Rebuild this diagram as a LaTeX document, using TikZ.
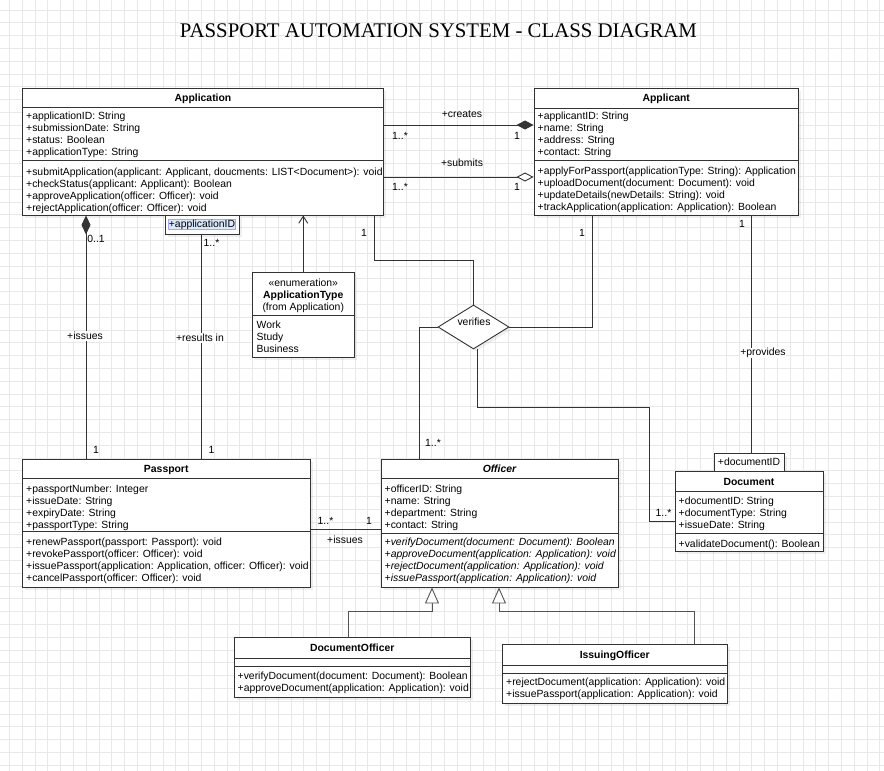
\documentclass[tikz,border=0pt]{standalone}
\usepackage{fontspec}
\setmainfont{Liberation Sans}
\newfontfamily\titlefont{Liberation Serif}
\usetikzlibrary{arrows.meta,shapes.geometric,shadows}
\definecolor{gridgray}{RGB}{232,232,232}
\definecolor{linegray}{RGB}{51,51,51}
\definecolor{qualblue}{RGB}{218,232,252}
\begin{document}
\begin{tikzpicture}[x=1pt,y=-1pt,
  classbox/.style={draw=linegray, fill=white, line width=0.9pt, inner sep=0pt,
    drop shadow={shadow xshift=2.5pt, shadow yshift=-2.5pt, opacity=0.12}},
  members/.style={anchor=north west, inner sep=0pt, align=left, font=\fontsize{10.4}{12}\selectfont},
  cname/.style={inner sep=0pt, text height=7.5pt, text depth=1.5pt, font=\fontsize{10.4}{12}\selectfont\bfseries},
  lbl/.style={inner sep=0.5pt, text height=7.5pt, text depth=1.5pt, font=\fontsize{10.4}{12}\selectfont},
  onwire/.style={lbl, fill=white},
  sepline/.style={draw=linegray, line width=0.9pt},
  assoc/.style={draw=linegray, line width=0.9pt},
  gen/.style={draw=linegray!85, line width=0.9pt, -{Triangle[open, fill=white, length=16pt, width=14pt]}},
  gridline/.style={draw=gridgray, line width=0.8pt}]

% background and grid
\fill[white] (0,0) rectangle (884,771);
\useasboundingbox (0,0) rectangle (884,771);
\foreach \k in {-1,...,68} \draw[gridline] ({9.3+12.8*\k},0) -- ({9.3+12.8*\k},771);
\foreach \k in {-1,...,59} \draw[gridline] (0,{10+12.8*\k}) -- (884,{10+12.8*\k});

\node[inner sep=0pt, text height=13.8pt, text depth=0pt, font=\titlefont\fontsize{20.8}{24}\selectfont] (title) at (438.5,30.4) {PASSPORT AUTOMATION SYSTEM - CLASS DIAGRAM};

% Application
\node[classbox, minimum width=361, minimum height=126.5] (application) at (203,151.75) {};
\draw[sepline] (22.5,107.5) -- (383.5,107.5);
\draw[sepline] (22.5,160.5) -- (383.5,160.5);
\node[cname] (applicationname) at (203,98) {Application};
\node[members] (applicationattr) at (26,110.8) {\strut+applicationID: String\\+submissionDate: String\\+status: Boolean\\+applicationType: String};
\node[members] (applicationops) at (26,166.5) {\strut+submitApplication(applicant: Applicant, doucments: LIST<Document>): void\\+checkStatus(applicant: Applicant): Boolean\\+approveApplication(officer: Officer): void\\+rejectApplication(officer: Officer): void};

% Applicant
\node[classbox, minimum width=264.5, minimum height=127] (applicant) at (666.25,152) {};
\draw[sepline] (534,108) -- (798.5,108);
\draw[sepline] (534,160.5) -- (798.5,160.5);
\node[cname] (applicantname) at (666.25,98) {Applicant};
\node[members] (applicantattr) at (537.5,110.8) {\strut+applicantID: String\\+name: String\\+address: String\\+contact: String};
\node[members] (applicantops) at (537.5,165.8) {\strut+applyForPassport(applicationType: String): Application\\+uploadDocument(document: Document): void\\+updateDetails(newDetails: String): void\\+trackApplication(application: Application): Boolean};

% qualifier on Application
\node[classbox, minimum width=74, minimum height=19] (appid) at (202,224.5) {};
\node[lbl, fill=qualblue, draw=blue!35, line width=0.5pt] (appidtext) at (202,224.5) {+applicationID};

% ApplicationType
\node[classbox, minimum width=101.5, minimum height=85] (apptype) at (303.25,314.5) {};
\draw[sepline] (252.5,315) -- (354,315);
\node[members, anchor=north, align=center] (apptypehead) at (303.25,277.5) {\strut«enumeration»\\\textbf{ApplicationType}\\(from Application)};
\node[members] (apptypevals) at (256.5,319.8) {\strut Work\\Study\\Business};

% verifies
\node[diamond, draw=linegray, fill=white, line width=0.9pt, minimum width=71, minimum height=44, inner sep=0pt,
  drop shadow={shadow xshift=2.5pt, shadow yshift=-2.5pt, opacity=0.12}] (verifies) at (473.5,327) {};
\node[lbl] (verifieslbl) at (474,322.5) {verifies};

% Passport
\node[classbox, minimum width=287.5, minimum height=128] (passport) at (166.25,523) {};
\draw[sepline] (22.5,478) -- (310,478);
\draw[sepline] (22.5,531.5) -- (310,531.5);
\node[cname] (passportname) at (166.25,469.5) {Passport};
\node[members] (passportattr) at (26,483.8) {\strut+passportNumber: Integer\\+issueDate: String\\+expiryDate: String\\+passportType: String};
\node[members] (passportops) at (26,536.8) {\strut+renewPassport(passport: Passport): void\\+revokePassport(officer: Officer): void\\+issuePassport(application: Application, officer: Officer): void\\+cancelPassport(officer: Officer): void};

% Officer
\node[classbox, minimum width=237, minimum height=128] (officer) at (499.5,523) {};
\draw[sepline] (381,478) -- (618,478);
\draw[sepline] (381,533) -- (618,533);
\node[cname, font=\fontsize{10.4}{12}\selectfont\bfseries\itshape] (officername) at (499.5,469.5) {Officer};
\node[members] (officerattr) at (384.5,483.8) {\strut+officerID: String\\+name: String\\+department: String\\+contact: String};
\node[members, font=\fontsize{10.4}{12}\selectfont\itshape] (officerops) at (384.5,536.5) {\strut+verifyDocument(document: Document): Boolean\\+approveDocument(application: Application): void\\+rejectDocument(application: Application): void\\+issuePassport(application: Application): void};

% Document
\node[classbox, minimum width=70, minimum height=18.5] (docid) at (749,462.25) {};
\node[lbl] (docidtext) at (749,462.5) {+documentID};
\node[classbox, minimum width=148, minimum height=80] (document) at (749,511.5) {};
\draw[sepline] (675,491.5) -- (823,491.5);
\draw[sepline] (675,533) -- (823,533);
\node[cname] (documentname) at (749,482.5) {Document};
\node[members] (documentattr) at (678.5,495.8) {\strut+documentID: String\\+documentType: String\\+issueDate: String};
\node[members] (documentops) at (678.5,538.8) {\strut+validateDocument(): Boolean};

% DocumentOfficer
\node[classbox, minimum width=236.5, minimum height=60] (docofficer) at (352.25,667) {};
\draw[sepline] (234,658) -- (470.5,658);
\draw[sepline] (234,666) -- (470.5,666);
\node[cname] (docofficername) at (352.25,648.5) {DocumentOfficer};
\node[members] (docofficerops) at (237.5,670.8) {\strut+verifyDocument(document: Document): Boolean\\+approveDocument(application: Application): void};

% IssuingOfficer
\node[classbox, minimum width=224.5, minimum height=59] (issuing) at (614.75,673.5) {};
\draw[sepline] (502.5,665) -- (727,665);
\draw[sepline] (502.5,673) -- (727,673);
\node[cname] (issuingname) at (614.75,655.5) {IssuingOfficer};
\node[members] (issuingops) at (506,676.5) {\strut+rejectDocument(application: Application): void\\+issuePassport(application: Application): void};

% associations
\draw[assoc, -{Diamond[fill=linegray, length=17pt, width=9pt]}] (application.east |- 0,125) -- (applicant.west |- 0,125);
\node[lbl] (createslbl) at (462,114) {+creates};
\node[lbl] (createsmany) at (400,136) {1..*};
\node[lbl] (createsone) at (517,136) {1};

\draw[assoc, -{Diamond[open, fill=white, length=17pt, width=9pt]}] (application.east |- 0,177) -- (applicant.west |- 0,177);
\node[lbl] (submitslbl) at (462,163) {+submits};
\node[lbl] (submitsmany) at (400,187) {1..*};
\node[lbl] (submitsone) at (517,187) {1};

\draw[assoc, {Diamond[fill=linegray, length=19pt, width=9pt]}-] (application.south -| 86,0) -- (passport.north -| 86,0);
\node[lbl] (issuesopt) at (96,239) {0..1};
\node[onwire] (issueslbl) at (85,336) {+issues};
\node[lbl] (issuesone) at (96,450) {1};

\draw[assoc] (appid.south -| 201.5,0) -- (passport.north -| 201.5,0);
\node[lbl] (resultsmany) at (211.5,243.5) {1..*};
\node[onwire] (resultslbl) at (200,338) {+results in};
\node[lbl] (resultsone) at (211.5,450) {1};

\draw[assoc, -{Straight Barb[length=7pt, width=9pt]}] (apptype.north) -- (application.south -| apptype.north);

\draw[assoc] (application.south -| 374.5,0) |- (verifies.north |- 0,260) -- (verifies.north);
\node[lbl] (verifiesapp) at (364,233) {1};
\draw[assoc] (verifies.east) -| (applicant.south -| 592,0);
\node[lbl] (verifiesapplicant) at (582,233) {1};
\draw[assoc] (verifies.west) -| (officer.north -| 419,0);
\node[lbl] (verifiesofficer) at (433,443) {1..*};
\draw[assoc] ([xshift=3.5pt]verifies.south) |- (649,407) |- (document.west |- 0,521.5);
\node[lbl] (verifiesdoc) at (663.5,513.5) {1..*};

\draw[assoc] (applicant.south -| 751.5,0) -- (docid.north -| 751.5,0);
\node[lbl] (providesone) at (742,224) {1};
\node[onwire] (provideslbl) at (763,352.5) {+provides};

\draw[assoc] (passport.east |- 0,529) -- (officer.west |- 0,529);
\node[lbl] (passissuesmany) at (325.5,521) {1..*};
\node[lbl] (passissuesone) at (369,521) {1};
\node[lbl] (passissueslbl) at (345,540.5) {+issues};

% generalizations
\draw[gen] (docofficer.north -| 348.5,0) -- ++(0,-25) -| (officer.south -| 432,0);
\draw[gen] (issuing.north -| 694,0) -- ++(0,-32) -| (officer.south -| 499,0);
\end{tikzpicture}
\end{document}
